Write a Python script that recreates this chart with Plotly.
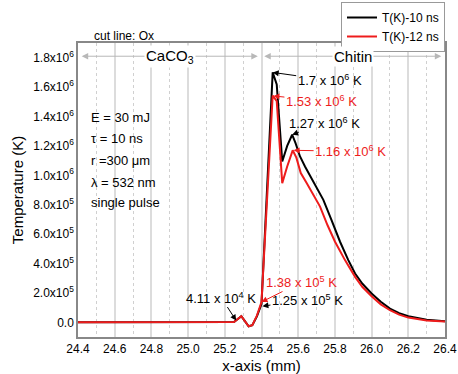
import plotly.graph_objects as go

# ---- data ----
x_10ns = [24.40, 24.80, 25.20, 25.25, 25.29, 25.31, 25.33, 25.35, 25.375, 25.40,
          25.461, 25.483, 25.513, 25.54, 25.567, 25.585, 25.61, 25.637, 25.664,
          25.70, 25.737, 25.78, 25.828, 25.873, 25.91, 25.95, 26.00, 26.05, 26.10,
          26.15, 26.20, 26.30, 26.40]
t_10ns = [0, 0, 0, 0.002e6, 0.041e6, 0.005e6, -0.027e6, -0.02e6, 0.04e6, 0.125e6,
          1.70e6, 1.618e6, 1.094e6, 1.20e6, 1.276e6, 1.22e6, 1.128e6, 1.06e6, 1.0e6,
          0.92e6, 0.833e6, 0.70e6, 0.548e6, 0.423e6, 0.332e6, 0.262e6, 0.196e6, 0.14e6, 0.093e6,
          0.062e6, 0.041e6, 0.018e6, 0.007e6]

x_12ns = [24.40, 24.80, 25.20, 25.25, 25.29, 25.31, 25.33, 25.35, 25.375, 25.40,
          25.461, 25.483, 25.513, 25.54, 25.57, 25.59, 25.614, 25.646, 25.68,
          25.719, 25.76, 25.80, 25.855, 25.91, 25.95, 26.00, 26.05, 26.10,
          26.15, 26.20, 26.30, 26.40]
t_12ns = [0, 0, 0, 0.002e6, 0.041e6, 0.005e6, -0.027e6, -0.02e6, 0.045e6, 0.138e6,
          1.543e6, 1.504e6, 0.947e6, 1.06e6, 1.17e6, 1.12e6, 1.015e6, 0.947e6, 0.87e6,
          0.787e6, 0.66e6, 0.55e6, 0.423e6, 0.309e6, 0.24e6, 0.177e6, 0.122e6, 0.082e6,
          0.052e6, 0.032e6, 0.012e6, 0.005e6]

x_ticks = [24.4, 24.6, 24.8, 25.0, 25.2, 25.4, 25.6, 25.8, 26.0, 26.2, 26.4]
y_ticks = [0, 2e5, 4e5, 6e5, 8e5, 1e6, 1.2e6, 1.4e6, 1.6e6, 1.8e6]
y_ticktext = ["0.0", "2.0x10<sup>5</sup>", "4.0x10<sup>5</sup>", "6.0x10<sup>5</sup>",
              "8.0x10<sup>5</sup>", "1.0x10<sup>6</sup>", "1.2x10<sup>6</sup>",
              "1.4x10<sup>6</sup>", "1.6x10<sup>6</sup>", "1.8x10<sup>6</sup>"]

params = ["E = 30 mJ", "τ = 10 ns", "r =300 μm", "λ = 532 nm", "single pulse"]

FONT = "Arial, Liberation Sans, sans-serif"
W, H = 458, 374
L, R, T, B = 78, 13, 43, 37
PH = H - T - B

fig = go.Figure()
fig.add_trace(go.Scatter(x=x_10ns, y=t_10ns, mode="lines", name="T(K)-10 ns",
                         line=dict(color="black", width=2)))
fig.add_trace(go.Scatter(x=x_12ns, y=t_12ns, mode="lines", name="T(K)-12 ns",
                         line=dict(color="#ee1c1c", width=2)))

ann = []
# region arrows
grey = "#b8b8b8"
yr = 1.81e6
for (x0, x1) in [(24.895, 24.42), (24.895, 25.38), (25.895, 25.415), (25.895, 26.38)]:
    ann.append(dict(x=x1, y=yr, ax=x0, ay=yr, axref="x", ayref="y", xref="x", yref="y",
                    text="", showarrow=True, arrowhead=2, arrowsize=1.3, arrowwidth=1,
                    arrowcolor=grey))
ann.append(dict(x=24.9, y=yr, text="CaCO<sub>3</sub>", showarrow=False, bgcolor="white",
                font=dict(size=15, color="black", family=FONT)))
ann.append(dict(x=25.9, y=yr, text="Chitin", showarrow=False, bgcolor="white",
                font=dict(size=15, color="black", family=FONT)))

# value labels with arrows
labels = [
    (25.461, 1.70e6, "1.7 x 10<sup>6</sup> K", "black", 57, 8),
    (25.465, 1.54e6, "1.53 x 10<sup>6</sup> K", "#ee1c1c", 48, 5),
    (25.567, 1.276e6, "1.27 x 10<sup>6</sup> K", "black", 32, -12),
    (25.575, 1.17e6, "1.16 x 10<sup>6</sup> K", "#ee1c1c", 57, 1),
    (25.262, 0.012e6, "4.11 x 10<sup>4</sup> K", "black", -15, -23),
    (25.40, 0.138e6, "1.38 x 10<sup>5</sup> K", "#ee1c1c", 40, -20),
    (25.405, 0.11e6, "1.25 x 10<sup>5</sup> K", "black", 45, -6),
]
for (xx, yy, tt, cc, axp, ayp) in labels:
    ann.append(dict(x=xx, y=yy, xref="x", yref="y", text=tt, showarrow=True,
                    ax=axp, ay=ayp, arrowhead=2, arrowsize=1.2, arrowwidth=1,
                    arrowcolor=cc, font=dict(size=13, color=cc, family=FONT)))

# parameter texts
for i, p in enumerate(params):
    ann.append(dict(xref="paper", yref="paper", x=0.03, y=(H - B - [118, 138, 160, 182, 203][i]) / PH,
                    xanchor="left", yanchor="middle", text=p, showarrow=False,
                    font=dict(size=13, color="black", family=FONT)))

ann.append(dict(xref="paper", yref="paper", x=0.038, y=(H - B - 36) / PH, xanchor="left",
                yanchor="middle", text="cut line: Ox", showarrow=False,
                font=dict(size=12, color="black", family=FONT)))

fig.update_layout(
    width=W, height=H,
    margin=dict(l=L, r=R, t=T, b=B, autoexpand=False),
    paper_bgcolor="white", plot_bgcolor="white",
    font=dict(family=FONT, size=12, color="black"),
    annotations=ann,
    legend=dict(xref="container", yref="container", x=(W - R) / W, xanchor="right",
                y=1 - 2 / H, yanchor="top", bordercolor="#999",
                borderwidth=1, bgcolor="white", font=dict(size=12, family=FONT),
                tracegroupgap=0, itemwidth=30),
    xaxis=dict(range=[24.4, 26.4], tickvals=x_ticks, ticktext=[f"{v:.1f}" for v in x_ticks],
               showgrid=True, gridcolor="#dcdcdc", gridwidth=1.5,
               minor=dict(dtick=0.1, tick0=24.4, showgrid=True, gridcolor="#d0d0d0",
                          griddash="dot", gridwidth=1),
               showline=True, linecolor="#888", linewidth=1.5, mirror=True,
               zeroline=False, ticks="", title=dict(text="x-axis (mm)", font=dict(size=15), standoff=8),
               tickfont=dict(size=12)),
    yaxis=dict(range=[-1e5, 1.9e6], tickvals=y_ticks, ticktext=y_ticktext,
               showgrid=False, zeroline=False, showline=True, linecolor="#888",
               linewidth=1.5, mirror=True, ticks="",
               title=dict(text="Temperature (K)", font=dict(size=15), standoff=6),
               tickfont=dict(size=12)),
)

fig.write_html("out.html")
